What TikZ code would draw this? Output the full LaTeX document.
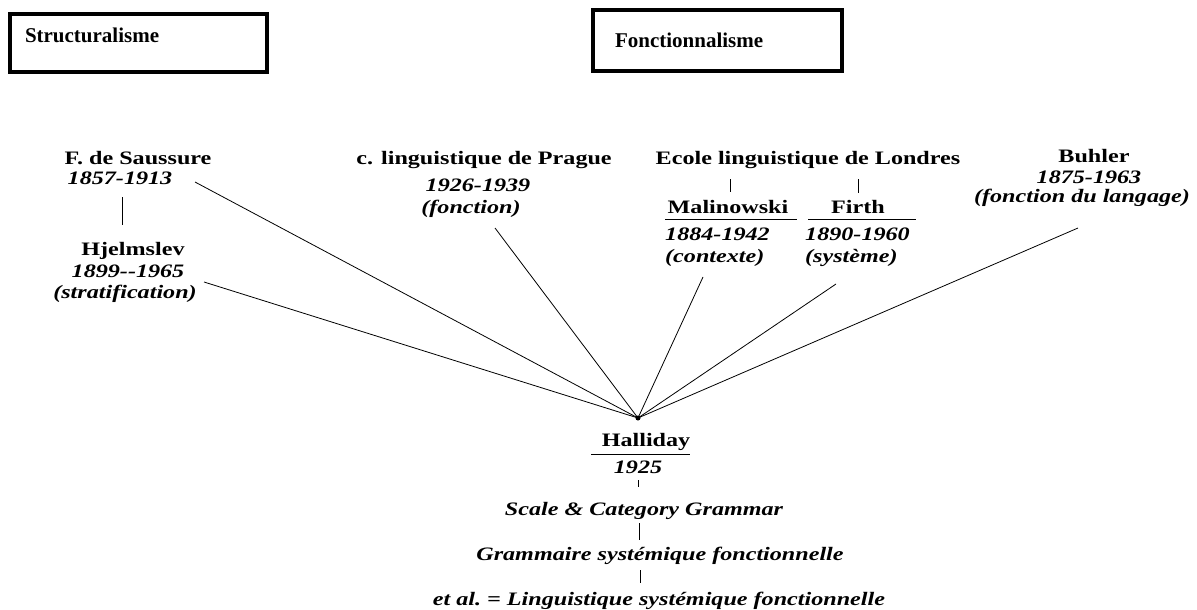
\documentclass[tikz,border=0pt]{standalone}
\usepackage{fontspec}
\setmainfont{Liberation Serif}[FakeStretch=1.27]
\newfontfamily\boxfont{Liberation Serif}
\begin{document}
\begin{tikzpicture}[x=1pt, y=-1pt,
namenode/.style={font=\fontsize{19}{22}\selectfont\bfseries, anchor=base, inner sep=0pt},
datenode/.style={font=\fontsize{19}{22}\selectfont\bfseries\itshape, anchor=base, inner sep=0pt},
schoolbox/.style={draw, line width=4pt, align=left, anchor=north west, text height=15pt, font=\boxfont\fontsize{21}{24}\selectfont\bfseries},
link/.style={line width=0.8pt},
dot/.style={circle, fill, inner sep=0pt, minimum size=5pt}
]
\useasboundingbox (0,0) rectangle (1197,610);
% Boxes
\node[schoolbox, inner xsep=15pt, inner ysep=14pt, text width=227pt, text depth=15pt] (structbox) at (8,12) {Structuralisme};
\node[schoolbox, inner xsep=22pt, inner ysep=23pt, text width=205pt, text depth=0pt] (fonctbox) at (591,8) {Fonctionnalisme};
% Saussure and Hjelmslev
\node[namenode] (saussure)   at (138,164) {F. de Saussure};
\node[datenode] (sausdates)  at (120,184) {1857-1913};
\node[namenode] (hjelmslev)  at (133,255) {Hjelmslev};
\node[datenode] (hjeldates)  at (128,277) {1899-{}-1965};
\node[datenode] (hjelrole)   at (125,298) {(stratification)};
% Prague
\node[namenode] (prague)      at (484,164) {c. linguistique de Prague};
\node[datenode] (praguedates) at (478,191) {1926-1939};
\node[datenode] (praguerole)  at (471,213) {(fonction)};
% Londres
\node[namenode] (londres)    at (808,164) {Ecole linguistique de Londres};
\node[namenode] (malinowski) at (728,213) {Malinowski};
\node[datenode, anchor=base west] (maldates) at (665,240) {1884-1942};
\node[datenode, anchor=base west] (malrole)  at (665,262) {(contexte)};
\node[namenode] (firth)      at (858,213) {Firth};
\node[datenode, anchor=base west] (firthdates) at (805,240) {1890-1960};
\node[datenode, anchor=base west] (firthrole)  at (805,262) {(système)};
% Buhler
\node[namenode] (buhler)      at (1094,162) {Buhler};
\node[datenode] (buhlerdates) at (1089,183) {1875-1963};
\node[datenode] (buhlerrole)  at (1082,202) {(fonction du langage)};
% Halliday
\node[dot] (hub) at (638,418) {};
\node[namenode] (halliday)     at (646,446) {Halliday};
\node[datenode] (hallidaydate) at (638,473) {1925};
\node[datenode] (scale)     at (644,515) {Scale \& Category Grammar};
\node[datenode] (grammaire) at (660,560) {Grammaire systémique fonctionnelle};
\node[datenode] (etal)      at (659,605) {et al.\ = Linguistique systémique fonctionnelle};
%Lines
\draw[link] ([shift={(2,13)}]sausdates.base) -- ([shift={(-11,-30)}]hjelmslev.base);
\draw[link] ([shift={(-78,15)}]londres.base) -- ([shift={(2,-21)}]malinowski.base);
\draw[link] ([shift={(50,15)}]londres.base) -- ([shift={(0,-20)}]firth.base);
\draw[link] ([shift={(-63,6)}]malinowski.base) -- ([shift={(69,6)}]malinowski.base);
\draw[link] ([shift={(-50,6)}]firth.base) -- ([shift={(58,6)}]firth.base);
\draw[link] ([shift={(-55,8)}]halliday.base) -- ([shift={(44,8)}]halliday.base);
\draw[link] ([shift={(75,-2)}]sausdates.base) -- (hub.center);
\draw[link] ([shift={(76,5)}]hjeldates.base) -- (hub.center);
\draw[link] ([shift={(24,15)}]praguerole.base) -- (hub.center);
\draw[link] ([shift={(38,15)}]malrole.base west) -- (hub.center);
\draw[link] ([shift={(31,22)}]firthrole.base west) -- (hub.center);
\draw[link] ([shift={(-4,26)}]buhlerrole.base) -- (hub.center);
\draw[link] ([shift={(0,7)}]hallidaydate.base) -- ([shift={(-6,-28)}]scale.base);
\draw[link] ([shift={(-5,8)}]scale.base) -- ([shift={(-21,-20)}]grammaire.base);
\draw[link] ([shift={(-20,10)}]grammaire.base) -- ([shift={(-19,-22)}]etal.base);
\end{tikzpicture}
\end{document}
